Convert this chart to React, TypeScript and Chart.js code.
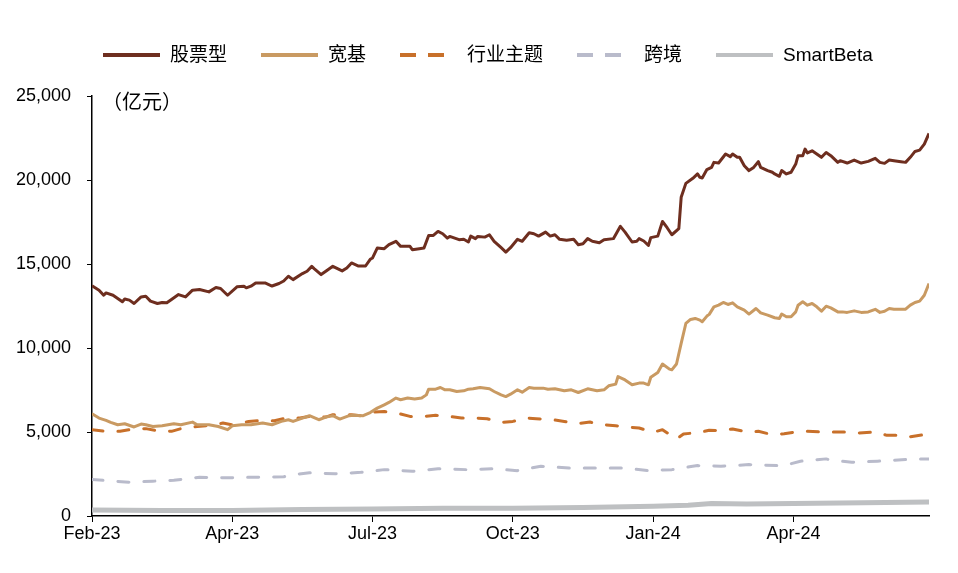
import React, { useEffect, useRef } from 'react';
import { Chart, registerables } from 'chart.js';

Chart.register(...registerables);

// x values are trading-day indices from the start of Feb-2023
const tickDays = [0, 60, 120, 180, 240, 300];
const tickLabels = ['Feb-23', 'Apr-23', 'Jul-23', 'Oct-23', 'Jan-24', 'Apr-24'];
const lastDay = 358;
const yMax = 25000;
const yStep = 5000;
const unitLabel = '（亿元）';

const seriesNames = ['股票型', '宽基', '行业主题', '跨境', 'SmartBeta'];

// 股票型 (亿元)
const stockSeries: [number, number][] = [
  [0, 13700], [3, 13440], [5, 13140], [6, 13280], [9, 13140], [13, 12750], [14, 12920], [16, 12850],
  [18, 12650], [21, 13040], [23, 13080], [25, 12790], [28, 12650], [30, 12710], [32, 12690], [34, 12890],
  [37, 13180], [40, 13040], [43, 13440], [46, 13480], [50, 13340], [53, 13600], [55, 13540], [58, 13140],
  [62, 13640], [65, 13680], [66, 13580], [68, 13680], [70, 13870], [74, 13870], [77, 13690], [80, 13840],
  [82, 13990], [84, 14270], [86, 14070], [90, 14430], [92, 14570], [94, 14860], [95, 14730], [98, 14370],
  [100, 14570], [103, 14860], [107, 14590], [109, 14760], [111, 15060], [114, 14880], [117, 14880], [119, 15280],
  [120, 15360], [122, 15950], [125, 15910], [127, 16150], [130, 16350], [132, 16050], [136, 16050], [137, 15850],
  [140, 15910], [142, 15950], [144, 16700], [146, 16700], [148, 16940], [150, 16800], [152, 16540], [153, 16640],
  [157, 16450], [159, 16470], [161, 16310], [162, 16660], [164, 16510], [165, 16640], [168, 16600], [170, 16740],
  [172, 16350], [175, 15970], [177, 15710], [179, 15970], [182, 16470], [184, 16350], [187, 16860], [189, 16800],
  [191, 16660], [194, 16900], [196, 16660], [198, 16740], [200, 16470], [203, 16410], [206, 16470], [208, 16150],
  [210, 16210], [212, 16510], [214, 16350], [217, 16270], [219, 16450], [223, 16510], [226, 17240], [228, 16900],
  [231, 16310], [233, 16350], [234, 16510], [236, 16370], [238, 16110], [239, 16570], [242, 16660], [244, 17530],
  [246, 17160], [248, 16740], [249, 16860], [251, 17100], [252, 18970], [254, 19800], [257, 20100], [259, 20360],
  [260, 20160], [261, 20120], [263, 20620], [265, 20750], [266, 21050], [268, 21010], [271, 21550], [273, 21390],
  [274, 21550], [276, 21350], [277, 21350], [279, 20850], [281, 20560], [283, 20750], [285, 21090], [286, 20750],
  [289, 20560], [291, 20460], [292, 20360], [294, 20220], [295, 20560], [297, 20360], [299, 20460], [301, 20950],
  [302, 21450], [304, 21450], [305, 21840], [306, 21610], [308, 21740], [310, 21550], [312, 21350], [314, 21640],
  [316, 21450], [319, 21050], [320, 21150], [323, 21010], [326, 21190], [329, 21010], [332, 21110], [335, 21290],
  [337, 21050], [339, 20990], [341, 21190], [343, 21150], [346, 21090], [348, 21050], [350, 21350], [352, 21700],
  [354, 21780], [356, 22140], [358, 22770],
];

// 宽基 (亿元)
const broadSeries: [number, number][] = [
  [0, 6090], [3, 5830], [6, 5690], [8, 5570], [11, 5430], [14, 5490], [18, 5300], [21, 5470],
  [23, 5430], [26, 5330], [30, 5370], [35, 5490], [38, 5430], [43, 5590], [45, 5430], [50, 5430],
  [54, 5330], [58, 5140], [60, 5370], [64, 5430], [68, 5430], [73, 5530], [77, 5430], [81, 5630],
  [84, 5730], [86, 5630], [90, 5830], [93, 5970], [97, 5730], [100, 5890], [103, 5970], [106, 5770],
  [110, 5970], [112, 5990], [116, 5970], [119, 6160], [122, 6420], [125, 6620], [127, 6760], [130, 7020],
  [132, 6920], [135, 7020], [138, 6960], [141, 7020], [143, 7210], [144, 7550], [147, 7550], [149, 7650],
  [151, 7510], [153, 7510], [156, 7410], [159, 7450], [161, 7550], [163, 7570], [166, 7650], [170, 7570],
  [172, 7410], [175, 7210], [177, 7110], [179, 7250], [182, 7510], [184, 7370], [187, 7650], [189, 7610],
  [193, 7610], [195, 7550], [198, 7570], [202, 7450], [205, 7510], [208, 7350], [212, 7570], [216, 7450],
  [219, 7510], [221, 7750], [224, 7850], [225, 8300], [228, 8100], [231, 7810], [234, 7910], [236, 7910],
  [238, 7810], [239, 8260], [242, 8540], [244, 9050], [247, 8740], [248, 8700], [250, 9050], [252, 10280],
  [254, 11460], [256, 11700], [258, 11760], [260, 11660], [261, 11560], [263, 11900], [264, 12000], [266, 12450],
  [268, 12550], [270, 12710], [272, 12590], [274, 12690], [276, 12450], [279, 12250], [281, 12020], [284, 12350],
  [286, 12090], [289, 11960], [292, 11800], [294, 11760], [295, 12020], [297, 11860], [299, 11860], [301, 12150],
  [302, 12550], [304, 12750], [306, 12550], [308, 12650], [310, 12450], [312, 12190], [314, 12490], [316, 12390],
  [319, 12150], [321, 12150], [323, 12120], [326, 12210], [329, 12120], [332, 12150], [335, 12300], [337, 12120],
  [339, 12190], [341, 12350], [343, 12310], [346, 12300], [348, 12310], [350, 12550], [352, 12710], [354, 12790],
  [356, 13140], [358, 13840],
];

// 行业主题 (亿元)
const sectorSeries: [number, number][] = [
  [0, 5140], [6, 5040], [12, 5040], [16, 5140], [23, 5200], [28, 5080], [34, 5040], [38, 5200],
  [45, 5330], [50, 5390], [56, 5530], [60, 5430], [67, 5630], [71, 5670], [78, 5670], [83, 5830],
  [89, 5830], [93, 5930], [100, 5890], [103, 6030], [111, 6030], [115, 5970], [121, 6190], [125, 6220],
  [132, 6070], [136, 5930], [142, 5930], [147, 5990], [153, 5930], [158, 5830], [164, 5830], [169, 5790],
  [175, 5570], [180, 5630], [186, 5830], [190, 5790], [197, 5730], [202, 5630], [207, 5490], [213, 5590],
  [219, 5430], [224, 5370], [229, 5300], [234, 5240], [240, 4980], [244, 5140], [250, 4580], [253, 4880],
  [260, 4980], [264, 5100], [269, 5080], [274, 5180], [281, 4980], [285, 5040], [291, 4840], [296, 4900],
  [301, 5000], [306, 5040], [312, 5000], [317, 5000], [323, 5000], [328, 4940], [335, 5000], [340, 4800],
  [346, 4800], [349, 4700], [358, 4880],
];

// 跨境 (亿元)
const crossSeries: [number, number][] = [
  [0, 2170], [6, 2110], [16, 2010], [26, 2070], [35, 2130], [46, 2310], [57, 2270], [70, 2310],
  [82, 2330], [84, 2430], [93, 2570], [104, 2510], [115, 2600], [125, 2760], [137, 2660], [148, 2810],
  [160, 2760], [171, 2810], [182, 2700], [192, 2960], [204, 2860], [215, 2860], [227, 2860], [238, 2700],
  [248, 2760], [259, 3000], [269, 2960], [281, 3060], [293, 3000], [295, 2960], [303, 3260], [314, 3400],
  [316, 3320], [325, 3200], [336, 3260], [348, 3360], [358, 3400],
];

// SmartBeta (亿元)
const smartBetaSeries: [number, number][] = [
  [0, 350], [30, 320], [60, 330], [90, 380], [120, 420], [150, 460], [180, 460], [210, 510],
  [240, 580], [255, 640], [265, 750], [280, 720], [300, 740], [330, 790], [358, 830],
];

const seriesData = [stockSeries, broadSeries, sectorSeries, crossSeries, smartBetaSeries];
const seriesColors = ['#6E2E1F', '#C99A62', '#C8702A', '#B9BBCB', '#BEC0C2'];
const seriesWidths = [3, 3, 3, 3, 5];
const seriesDash: number[][] = [[], [], [11, 15], [11, 15], []];
const legendDash: number[][] = [[], [], [16, 12], [16, 12], []];

const FONT = '"Liberation Sans", "Noto Sans CJK SC", sans-serif';

const overlayPlugin = {
  id: 'overlay',
  afterDraw(chart: any) {
    const ctx = chart.ctx as CanvasRenderingContext2D;
    ctx.save();
    // legend
    ctx.font = `19px ${FONT}`;
    ctx.textBaseline = 'middle';
    ctx.textAlign = 'left';
    const lineLen = 57;
    const dashLen = 44;
    const textGap = 10;
    const itemGap = 34;
    let x = 103;
    const y = 55;
    seriesNames.forEach((name, i) => {
      ctx.strokeStyle = seriesColors[i];
      ctx.lineWidth = 4;
      ctx.lineCap = 'butt';
      ctx.setLineDash(legendDash[i]);
      ctx.beginPath();
      ctx.moveTo(x, y);
      ctx.lineTo(x + (legendDash[i].length ? dashLen : lineLen), y);
      ctx.stroke();
      ctx.setLineDash([]);
      ctx.fillStyle = '#000';
      ctx.fillText(name, x + lineLen + textGap, y + 1);
      x += lineLen + textGap + ctx.measureText(name).width + itemGap;
    });
    // unit label
    ctx.font = `20px "Noto Sans CJK SC", sans-serif`;
    ctx.fillStyle = '#000';
    ctx.fillText(unitLabel, chart.chartArea.left + 10, chart.chartArea.top + 5);
    ctx.restore();
  },
};

export default function App() {
  const canvasRef = useRef<HTMLCanvasElement | null>(null);

  useEffect(() => {
    if (!canvasRef.current) return;
    const chart = new Chart(canvasRef.current, {
      type: 'line',
      data: {
        datasets: seriesNames.map((name, i) => ({
          label: name,
          data: seriesData[i].map(([d, v]) => ({ x: d, y: v })),
          borderColor: seriesColors[i],
          backgroundColor: seriesColors[i],
          borderWidth: seriesWidths[i],
          borderDash: seriesDash[i],
          borderCapStyle: seriesDash[i].length ? 'round' : 'butt',
          borderJoinStyle: 'round',
          pointRadius: 0,
          pointHoverRadius: 0,
          tension: 0,
          fill: false,
        })),
      },
      options: {
        animation: false,
        responsive: true,
        maintainAspectRatio: false,
        layout: { padding: { top: 96, right: 29, bottom: 0, left: 0 } },
        plugins: {
          legend: { display: false },
          tooltip: { enabled: false },
          title: { display: false },
        },
        scales: {
          x: {
            type: 'linear',
            min: 0,
            max: lastDay,
            afterBuildTicks: (scale: any) => {
              scale.ticks = tickDays.map((v) => ({ value: v }));
            },
            afterFit: (scale: any) => {
              scale.height = 57;
            },
            ticks: {
              autoSkip: false,
              maxRotation: 0,
              padding: 1,
              color: '#000',
              font: { family: FONT, size: 18 },
              callback: (value: any) => {
                const idx = tickDays.indexOf(Number(value));
                return idx >= 0 ? tickLabels[idx] : '';
              },
            },
            grid: {
              drawOnChartArea: false,
              drawTicks: true,
              tickLength: 6,
              color: '#000',
              lineWidth: 1,
            },
            border: { display: true, color: '#000', width: 1.5 },
          },
          y: {
            min: 0,
            max: yMax,
            afterFit: (scale: any) => {
              scale.width = 92;
            },
            ticks: {
              stepSize: yStep,
              padding: 16,
              color: '#000',
              font: { family: FONT, size: 18 },
              callback: (value: any) => Number(value).toLocaleString('en-US'),
            },
            grid: {
              drawOnChartArea: false,
              drawTicks: true,
              tickLength: 5,
              color: '#000',
              lineWidth: 1,
            },
            border: { display: true, color: '#000', width: 1.5 },
          },
        },
      },
      plugins: [overlayPlugin],
    });
    return () => chart.destroy();
  }, []);

  return (
    <div style={{ position: 'absolute', left: 0, top: 0, width: 958, height: 573, background: '#fff' }}>
      <canvas ref={canvasRef} />
    </div>
  );
}
